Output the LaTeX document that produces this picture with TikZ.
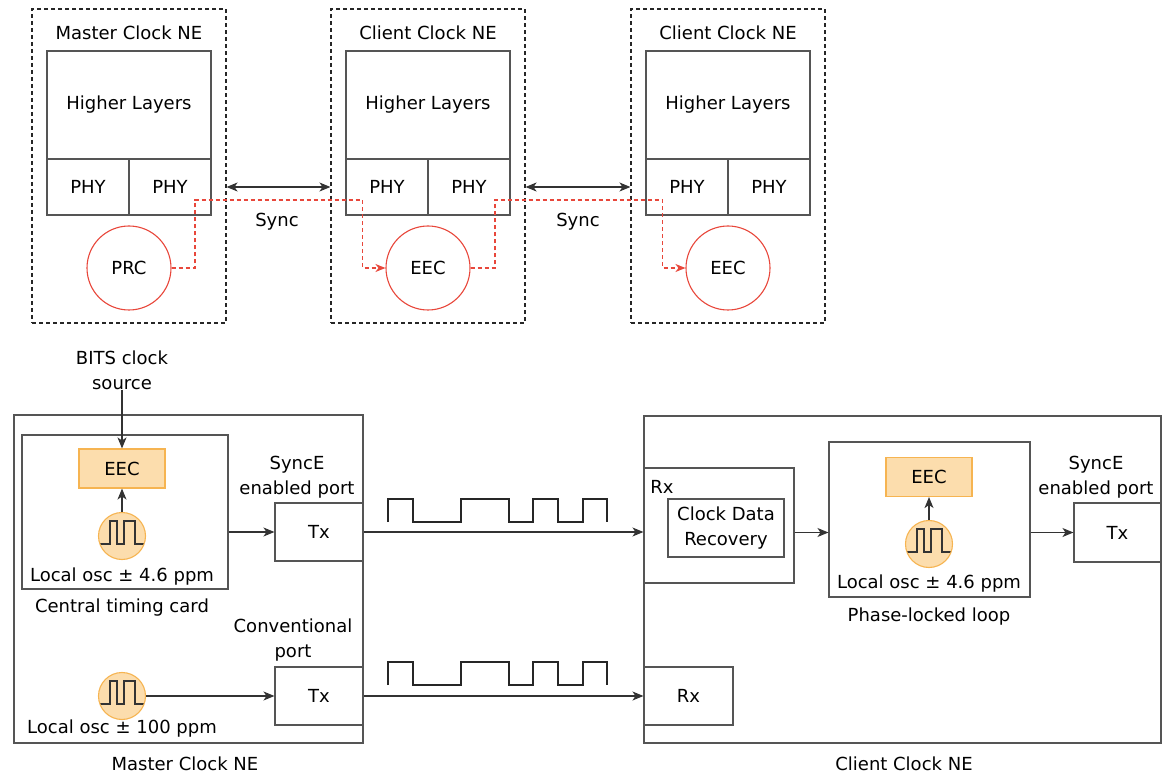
\documentclass[tikz,border=0pt]{standalone}
\usepackage{fontspec}
\setmainfont{DejaVu Sans}
\usetikzlibrary{arrows,arrows.meta,positioning}
\definecolor{clockred}{HTML}{E8473B}
\definecolor{eecfill}{HTML}{FCDDAD}
\definecolor{eecline}{HTML}{F6B451}
\definecolor{boxline}{HTML}{555555}
\tikzset{
    >={Stealth[length=11pt, width=9pt, inset=3pt]},
    font=\fontsize{18}{25}\selectfont,
    ne box/.style={draw=black!85, line width=1.1pt, dash pattern=on 4pt off 3pt, minimum width=194pt, minimum height=314pt},
    layer box/.style={draw=boxline, line width=1.1pt, inner sep=0pt, minimum width=164pt, minimum height=108pt},
    phy box/.style={draw=boxline, line width=1.1pt, inner sep=0pt, minimum width=82pt, minimum height=56pt},
    clock world/.style={circle, draw=clockred, line width=1.1pt, inner sep=0pt, minimum size=84pt},
    plain box/.style={draw=boxline, line width=1.1pt, inner sep=0pt, align=center},
    eec box/.style={draw=eecline, fill=eecfill, line width=1.1pt, inner sep=0pt, minimum width=86pt, minimum height=39pt},
    osc/.style={circle, draw=eecline, fill=eecfill, line width=1.1pt, inner sep=0pt, minimum size=47pt,
        path picture={\draw[line width=1.2pt, black!80] ([shift={(-22pt,-8pt)}]path picture bounding box.center)
            -- ++(10pt,0pt) -- ++(0pt,23pt) -- ++(7pt,0pt) -- ++(0pt,-23pt) -- ++(7pt,0pt)
            -- ++(0pt,23pt) -- ++(11pt,0pt) -- ++(0pt,-23pt) -- ++(9pt,0pt);}},
    txt/.style={align=center, inner sep=0pt},
    sig/.style={-{Stealth[length=10pt, width=8pt, inset=3pt]}, clockred, line width=1.1pt, dash pattern=on 4pt off 3pt},
    link/.style={->, line width=1.1pt, black!80},
    wave/.style={line width=1.8pt, black!85, line join=miter}
}

\begin{document}
\begin{tikzpicture}[x=1pt, y=-1pt]
    \useasboundingbox (0,0) rectangle (1165,775);
    % top: master and two clients
    \node[ne box] (mne) at (129,166) {};
    \node[txt] (mnelabel) at (129,33) {Master Clock NE};
    \node[layer box] (mhl) at (129,105) {Higher Layers};
    \node[phy box] (mphya) at (88,187) {PHY};
    \node[phy box] (mphyb) at (170,187) {PHY};
    \node[clock world] (prc) at (129,268) {PRC};

    \node[ne box] (cne1) at (428,166) {};
    \node[txt] (cne1label) at (428,33) {Client Clock NE};
    \node[layer box] (c1hl) at (428,105) {Higher Layers};
    \node[phy box] (c1phya) at (387,187) {PHY};
    \node[phy box] (c1phyb) at (469,187) {PHY};
    \node[clock world] (eec1) at (428,268) {EEC};

    \node[ne box] (cne2) at (728,166) {};
    \node[txt] (cne2label) at (728,33) {Client Clock NE};
    \node[layer box] (c2hl) at (728,105) {Higher Layers};
    \node[phy box] (c2phya) at (687,187) {PHY};
    \node[phy box] (c2phyb) at (769,187) {PHY};
    \node[clock world] (eec2) at (728,268) {EEC};

    \node[txt] (sync1) at (277,222) {Sync};
    \node[txt] (sync2) at (578,222) {Sync};

    \draw[sig] (prc.east) -| (195,200) -| ([xshift=-23pt]eec1.west) -- (eec1.west);
    \draw[sig] (eec1.east) -| (495,200) -| ([xshift=-23pt]eec2.west) -- (eec2.west);

    % bottom left: master clock NE
    \node[plain box, minimum width=349pt, minimum height=328pt] (master) at (188.5,579) {};
    \node[plain box, minimum width=206pt, minimum height=154pt] (card) at (125,512) {};
    \node[eec box] (eecm) at (122,468.5) {EEC};
    \node[osc] (oscm) at (122,536) {};
    \node[txt] (oscmlabel) at (122,577) {Local osc ± 4.6 ppm};
    \node[txt] (cardlabel) at (122,608) {Central timing card};
    \node[txt] (bits) at (122,370) {BITS clock\\source};
    \node[txt] (syncem) at (297,477) {SyncE\\enabled port};
    \node[plain box, minimum width=88pt, minimum height=58pt] (txm) at (319,532) {Tx};
    \node[txt] (convm) at (293,640) {Conventional\\port};
    \node[plain box, minimum width=88pt, minimum height=58pt] (txc) at (319,696) {Tx};
    \node[osc] (oscc) at (122,696) {};
    \node[txt] (oscclabel) at (122,729) {Local osc ± 100 ppm};
    \node[txt] (masterlabel) at (185,764) {Master Clock NE};

    % bottom right: client clock NE
    \node[plain box, minimum width=517pt, minimum height=327pt] (client) at (902.5,579.5) {};
    \node[plain box, minimum width=150pt, minimum height=115pt] (rxs) at (719,525.5) {};
    \node[txt] (rxslabel) at (662,487) {Rx};
    \node[plain box, minimum width=116pt, minimum height=58pt] (cdr) at (726,528) {Clock Data\\Recovery};
    \node[plain box, minimum width=201pt, minimum height=155pt] (pll) at (929.5,519.5) {};
    \node[eec box] (eecs) at (929,477) {EEC};
    \node[osc] (oscs) at (929,544) {};
    \node[txt] (oscslabel) at (929,584) {Local osc ± 4.6 ppm};
    \node[txt] (plllabel) at (929,617) {Phase-locked loop};
    \node[txt] (syncec) at (1096,477) {SyncE\\enabled port};
    \node[plain box, minimum width=87pt, minimum height=59pt] (txs) at (1117.5,532.5) {Tx};
    \node[plain box, minimum width=89pt, minimum height=58pt] (rxc) at (688.5,696) {Rx};
    \node[txt] (clientlabel) at (904,764) {Client Clock NE};

    % line signals
    \draw[wave] (388,522) |- (413,499) |- (461,522) |- (509,499) |- (533,522) |- (558,499) |- (583,522) |- (607,499) -- (607,522);
    \draw[wave] (388,685) |- (413,662) |- (461,685) |- (509,662) |- (533,685) |- (558,662) |- (583,685) |- (607,662) -- (607,685);

    \path
        (mphyb.east -| mne.east) edge [link, <->] (mphyb.east -| cne1.west)
        (c1phyb.east -| cne1.east) edge [link, <->] (c1phyb.east -| cne2.west)
        (bits) edge [link] (eecm)
        (oscm) edge [link] (eecm)
        (card.east |- txm.west) edge [link] (txm.west)
        (oscc) edge [link] (txc)
        (txm.east) edge [link] (txm.east -| rxs.west)
        (txc) edge [link] (rxc)
        (rxs.east |- txs.west) edge [link] (pll.west |- txs.west)
        (pll.east |- txs.west) edge [link] (txs.west)
        (oscs) edge [link] (eecs)
        ;
\end{tikzpicture}
\end{document}
